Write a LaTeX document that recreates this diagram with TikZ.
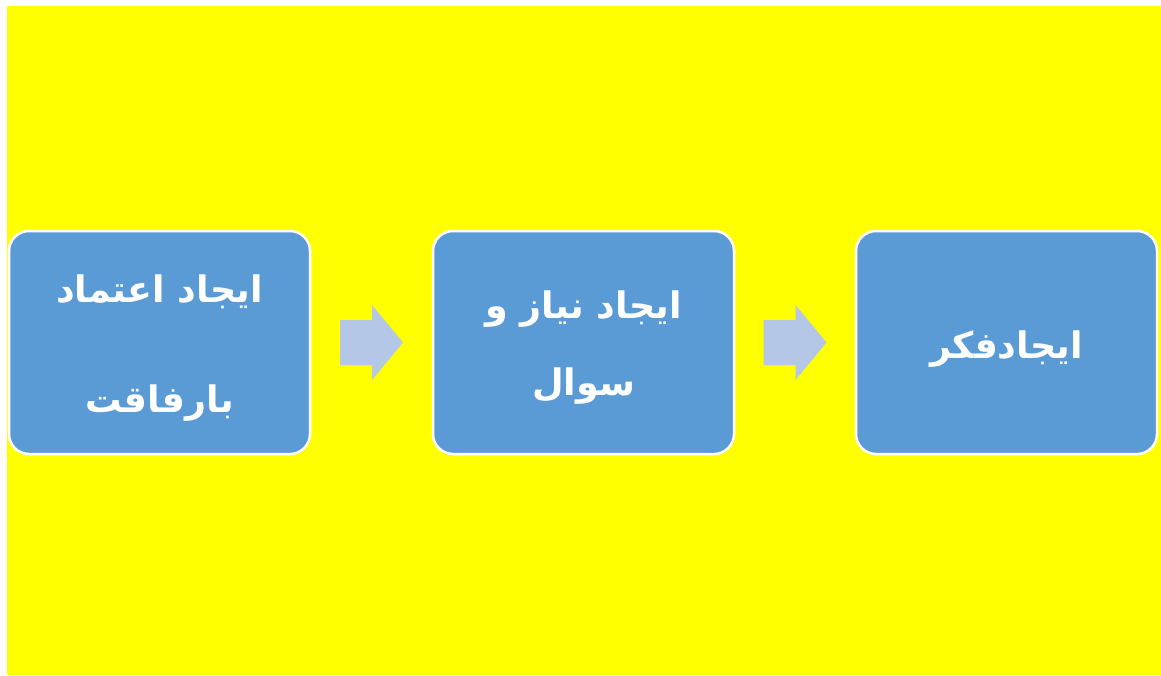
\documentclass[tikz,border=0pt]{standalone}
\usepackage{fontspec}
\usetikzlibrary{calc}
\TeXXeTstate=1
\newfontfamily\farsi[Script=Arabic]{DejaVu Sans}
\definecolor{bgyellow}{RGB}{255,255,0}
\definecolor{boxblue}{HTML}{5B9BD5}
\definecolor{arrowblue}{HTML}{B4C7E7}
\tikzset{
    stepbox/.style={draw=white, line width=2.5pt, fill=boxblue, rounded corners=20pt,
        minimum width=301pt, minimum height=223pt, inner sep=0pt},
    steptext/.style={text=white, align=center, inner sep=0pt,
        font=\farsi\bfseries\fontsize{36.5}{77}\selectfont}
}
\begin{document}
\begin{tikzpicture}[x=1pt, y=-1pt]
    % page and yellow background
    \fill[white] (0,0) rectangle (1161,675);
    \fill[bgyellow] (7,6) rectangle (1161,675);
    \useasboundingbox (0,0) rectangle (1161,675);

    % three boxes, left to right
    \node[stepbox] (b1) at (159.5,342.5) {};
    \node[stepbox] (b2) at (583.5,342.5) {};
    \node[stepbox] (b3) at (1006.5,342.5) {};

    % their texts
    \node[steptext] (t1) at ([yshift=-6pt]b1.center) {\beginR ایجاد اعتماد\endR\\[33pt]\beginR بارفاقت\endR};
    \node[steptext] (t2) at ([yshift=-5pt]b2.center) {\beginR ایجاد نیاز و\endR\\\beginR سوال\endR};
    \node[steptext] (t3) at ([yshift=-7pt]b3.center) {\beginR ایجادفکر\endR};

    % block arrows between the boxes
    \foreach \a/\b in {b1/b2, b2/b3} {
        \coordinate (m\a) at ($(\a.east)!0.5!(\b.west)$);
        \fill[arrowblue] ($(m\a)+(-31.5,-22.5)$) -- ($(m\a)+(0.5,-22.5)$)
            -- ($(m\a)+(0.5,-37.5)$) -- ($(m\a)+(31.5,0)$) -- ($(m\a)+(0.5,37.5)$)
            -- ($(m\a)+(0.5,22.5)$) -- ($(m\a)+(-31.5,22.5)$) -- cycle;
    }
\end{tikzpicture}
\end{document}
